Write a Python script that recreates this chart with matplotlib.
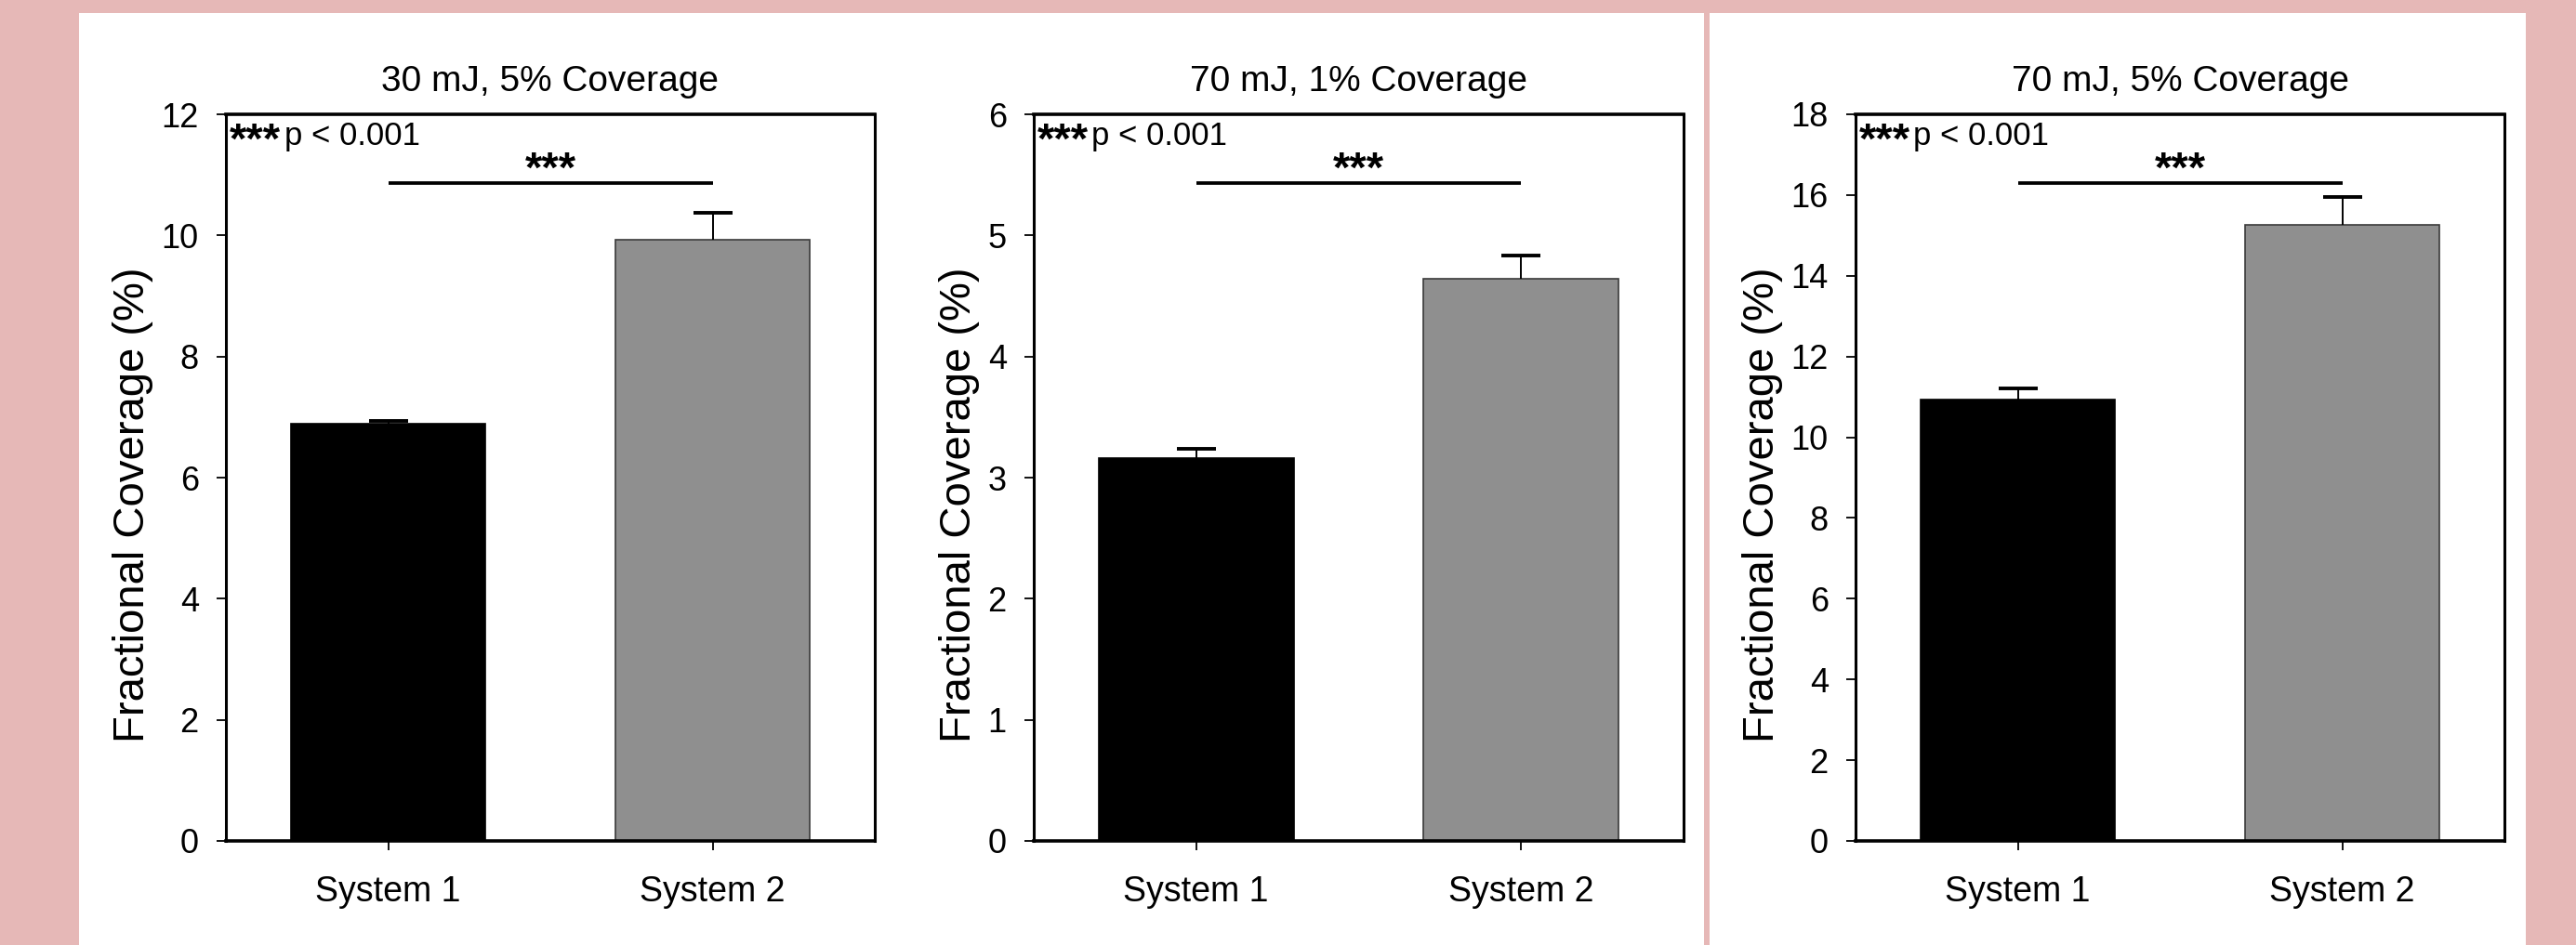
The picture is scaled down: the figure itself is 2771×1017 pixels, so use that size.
import numpy as np
import matplotlib
matplotlib.use("Agg")
import matplotlib.pyplot as plt
from matplotlib.patches import Rectangle

plt.rcParams["font.family"] = ["Liberation Sans", "DejaVu Sans"]

# values
systems = ["System 1", "System 2"]
titles = ["30 mJ, 5% Coverage", "70 mJ, 1% Coverage", "70 mJ, 5% Coverage"]
means = [
    [6.89, 9.93],    # 30 mJ, 5 %
    [3.16, 4.64],    # 70 mJ, 1 %
    [10.93, 15.26],  # 70 mJ, 5 %
]
errors = [
    [0.05, 0.45],
    [0.08, 0.19],
    [0.27, 0.69],
]
y_max = [12, 6, 18]
y_step = [2, 1, 2]
sig_y = [10.86, 5.43, 16.3]
sig_mark = "***"
p_note = "p < 0.001"
y_label = "Fractional Coverage (%)"

PINK = "#e6b8b7"
BAR_COLORS = ["black", "#8f8f8f"]
EDGE_COLORS = ["black", "#3a3a3a"]

W, H = 2771, 1017
fig = plt.figure(figsize=(W / 100, H / 100), dpi=100, facecolor=PINK)

# white panels behind the plots
fig.patches.append(Rectangle((85 / W, 0), (1833 - 85) / W, (H - 14) / H,
                             transform=fig.transFigure, facecolor="white",
                             edgecolor="none", zorder=-10))
fig.patches.append(Rectangle((1839 / W, 0), (2717 - 1839) / W, (H - 14) / H,
                             transform=fig.transFigure, facecolor="white",
                             edgecolor="none", zorder=-10))

# axes boxes in pixels: left, right
boxes = [(243, 941), (1112, 1811), (1996, 2694)]
top_px, bottom_px = 123, 905

x = np.arange(len(systems))

for i, (l, r) in enumerate(boxes):
    ax = fig.add_axes([l / W, 1 - bottom_px / H, (r - l) / W, (bottom_px - top_px) / H])
    ax.set_facecolor("none")
    ax.set_zorder(5)

    ax.bar(x, means[i], width=0.6, color=BAR_COLORS, edgecolor=EDGE_COLORS,
           linewidth=1.2, zorder=2)
    eb = ax.errorbar(x, means[i], yerr=[np.zeros(2), errors[i]], fmt="none",
                     ecolor="black", elinewidth=1.4, capsize=15, capthick=2.8,
                     zorder=3)
    # upper whisker only: drop the cap sitting on the bar top
    eb.lines[1][0].set_visible(False)

    ax.set_xlim(-0.5, 1.5)
    ax.set_ylim(0, y_max[i])
    ax.set_yticks(np.arange(0, y_max[i] + y_step[i], y_step[i]))
    ax.set_xticks(x)
    ax.set_xticklabels(systems)

    for side in ["top", "bottom"]:
        ax.spines[side].set_linewidth(2.6)
    for side in ["left", "right"]:
        ax.spines[side].set_linewidth(2.2)

    ax.tick_params(axis="y", direction="out", length=7, width=1.3,
                   labelsize=26, pad=14)
    ax.tick_params(axis="x", direction="out", length=7, width=1.3,
                   labelsize=27, pad=20)

    ax.set_title(titles[i], fontsize=28, pad=18)
    ax.set_ylabel(y_label, fontsize=34, labelpad=6)
    ax.yaxis.label.set_y(0.462)

    # significance bar
    ax.plot([0, 1], [sig_y[i], sig_y[i]], color="black", linewidth=2.7,
            solid_capstyle="butt", zorder=4)
    ax.annotate(sig_mark, xy=(0.5, sig_y[i]), xytext=(0, 1),
                textcoords="offset points", ha="center", va="baseline",
                fontsize=34, fontweight="bold")

    # legend note in the corner
    ax.annotate(sig_mark, xy=(0, 1), xycoords="axes fraction", xytext=(3, -30),
                textcoords="offset points", ha="left", va="baseline",
                fontsize=34, fontweight="bold")
    ax.annotate(p_note, xy=(0, 1), xycoords="axes fraction", xytext=(45, -24),
                textcoords="offset points", ha="left", va="baseline", fontsize=25)

fig.savefig("out.png", dpi=100, facecolor=PINK)
